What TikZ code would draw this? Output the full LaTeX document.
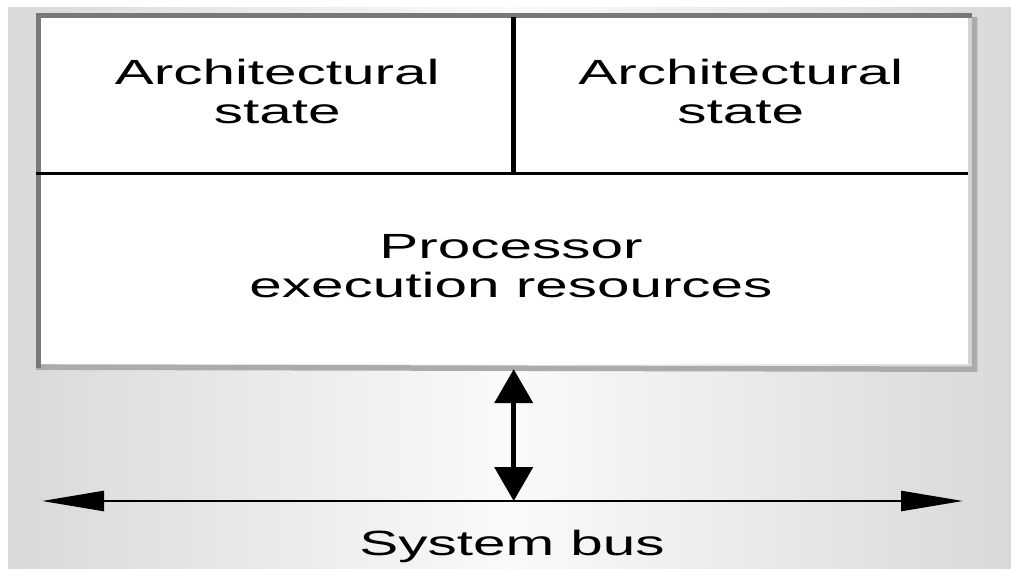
\documentclass[tikz,border=0pt]{standalone}
\usepackage{fontspec}
\setmainfont{Liberation Sans}[FakeStretch=1.67]
\usepackage{tikz}
\usetikzlibrary{arrows.meta, positioning}
\tikzset{
  box/.style={rectangle, inner sep=0pt, fill=white},
  cell/.style={rectangle, inner sep=0pt, align=center,
               font=\fontsize{35}{39}\selectfont},
  lbl/.style={inner sep=0pt, font=\fontsize{35}{39}\selectfont},
  edgedark/.style={draw=black!53, line width=4.5pt},
  edgelight/.style={draw=black!33, line width=5.5pt},
  divider/.style={line width=3pt},
}

\begin{document}
\begin{tikzpicture}[
  x=1pt, y=-1pt,
  bus/.style={line width=2.5pt,
    {Triangle[length=62pt,width=20pt]}-{Triangle[length=62pt,width=20pt]}},
  link/.style={line width=4.5pt,
    {Triangle[length=34pt,width=38pt]}-{Triangle[length=34pt,width=38pt]}},
]

  \useasboundingbox (0,0) rectangle (1011,569);
  \shade[left color=black!15, right color=black!15, middle color=black!2]
    (8,8) rectangle (1011,569);

  \node[box, minimum width=927pt, minimum height=347pt] (cpu) at (504.5,190.5) {};

  \draw[draw=black!17, line width=4pt] ([xshift=2pt]cpu.north east) -- ([xshift=2pt]cpu.south east);
  \draw[edgelight] ([xshift=6.5pt]cpu.north east) -- ([xshift=6.5pt,yshift=-5pt]cpu.south east)
    -- ([xshift=-5pt,yshift=-3pt]cpu.south west);
  \draw[edgedark] ([xshift=-2.5pt,yshift=-4pt]cpu.south west) -- ([xshift=-2.5pt,yshift=1.5pt]cpu.north west)
    -- ([xshift=4pt,yshift=1.5pt]cpu.north east);

  \node[cell, minimum width=472.5pt] (archA) at (277.25,91.5) {Architectural\\state};
  \node[cell, minimum width=454.5pt] (archB) at (740.75,91.5) {Architectural\\state};
  \node[cell] (exec) at (511,266) {Processor\\execution resources};

  \coordinate (split) at (513.5,173.5);
  \draw[divider] ([xshift=-5pt]split -| cpu.west) -- (split -| cpu.east);
  \draw[line width=5pt] (split) -- (split |- cpu.north);

  \coordinate (busW) at (42,501);
  \coordinate (busE) at (963,501);
  \draw[bus] (busW) -- (busE);
  \draw[link] ([yshift=-5pt]archA.east |- cpu.south) -- (archA.east |- busW);

  \node[lbl, anchor=base] (sysbus) at (512,555) {System bus};

\end{tikzpicture}
\end{document}
